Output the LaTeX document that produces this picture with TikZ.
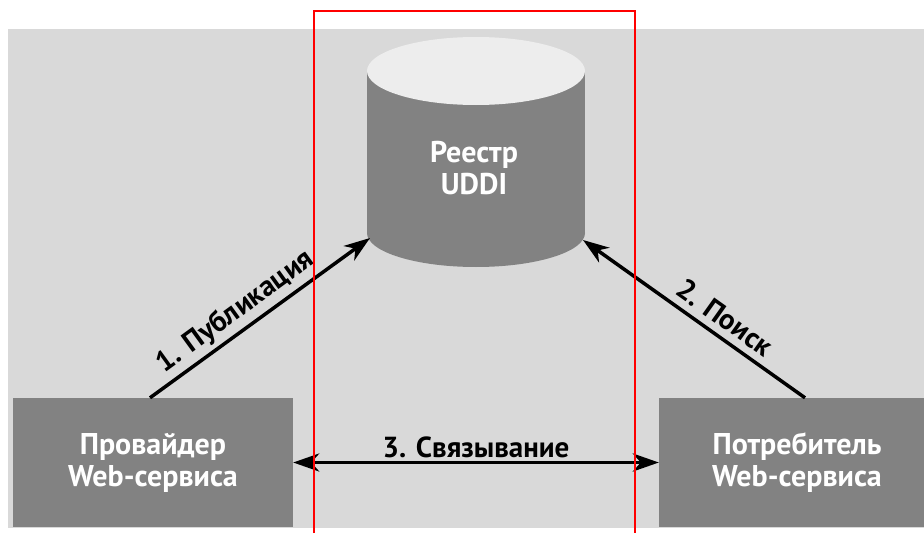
\documentclass[tikz,border=0pt]{standalone}
\usepackage{fontspec}
\setmainfont{PT Sans}
\usetikzlibrary{arrows.meta}
\definecolor{bggray}{HTML}{D9D9D9}
\definecolor{boxgray}{HTML}{828282}
\definecolor{topgray}{HTML}{EDEDED}
\tikzset{
  box/.style={fill=boxgray, text=white, font=\bfseries\fontsize{30}{32}\selectfont, align=center, inner sep=0pt},
  arr/.style={line width=3.5pt, -{Stealth[length=26pt,width=18pt,inset=8pt]}},
  darr/.style={line width=3.5pt, {Stealth[length=26pt,width=18pt,inset=8pt]}-{Stealth[length=26pt,width=18pt,inset=8pt]}},
  lbl/.style={font=\bfseries\fontsize{29}{31}\selectfont, text=black, inner sep=1pt},
}
\begin{document}
\begin{tikzpicture}[x=1pt,y=-1pt]
\useasboundingbox (0,0) rectangle (924,535);
\fill[white] (0,0) rectangle (924,535);
\fill[bggray] (8,29) rectangle (924,528);
% cylinder
\fill[boxgray] (367,71) rectangle (585,233);
\fill[boxgray] (476,233) ellipse (109 and 34);
\fill[topgray] (476,71) ellipse (109 and 34);
\node[box, fill=none] (reg) at (474,168) {Реестр\\UDDI};
\coordinate (regL) at (370,238);
\coordinate (regR) at (583,240);
% boxes
\node[box, minimum width=280pt, minimum height=129pt] (prov) at (153,462.5) {Провайдер\\Web-сервиса};
\begin{scope}
\clip (0,0) rectangle (924,535);
\node[box, minimum width=276pt, minimum height=129pt] (cons) at (797,462.5) {Потребитель\\Web-сервиса};
\end{scope}
% arrows
\draw[arr] ([xshift=-3pt]prov.north) -- (regL) node[lbl, pos=0.44, sloped, above=3pt] (l1) {1. Публикация};
\draw[arr] ([xshift=8pt]cons.north) -- (regR) node[lbl, pos=0.41, sloped, above=6pt] (l2) {2. Поиск};
\draw[darr] (prov.east) -- (cons.west) node[lbl, midway, above=2pt] (l3) {3. Связывание};
% red frame
\draw[red, line width=2pt] (314,533) -- (314,11) -- (635,11) -- (635,533);
\end{tikzpicture}
\end{document}
